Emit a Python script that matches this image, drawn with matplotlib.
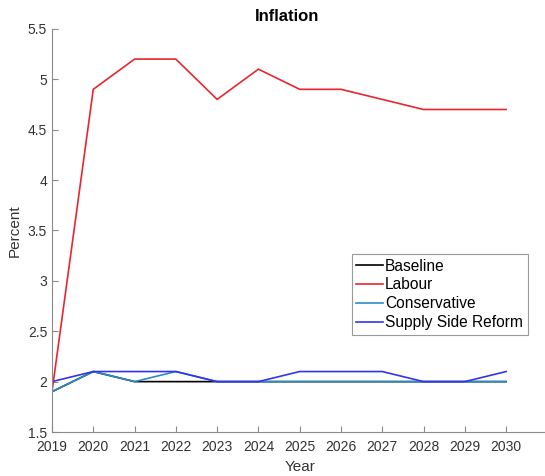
import matplotlib
matplotlib.use("Agg")
import matplotlib.pyplot as plt

plt.rcParams['font.family'] = ['Liberation Sans', 'DejaVu Sans']

years = list(range(2019, 2031))
baseline = [1.9, 2.1, 2.0, 2.0, 2.0, 2.0, 2.0, 2.0, 2.0, 2.0, 2.0, 2.0]
labour = [1.9, 4.9, 5.2, 5.2, 4.8, 5.1, 4.9, 4.9, 4.8, 4.7, 4.7, 4.7]
conservative = [1.9, 2.1, 2.0, 2.1, 2.0, 2.0, 2.0, 2.0, 2.0, 2.0, 2.0, 2.0]
supply_side = [2.0, 2.1, 2.1, 2.1, 2.0, 2.0, 2.1, 2.1, 2.1, 2.0, 2.0, 2.1]
yticks = [1.5, 2, 2.5, 3, 3.5, 4, 4.5, 5, 5.5]
ytick_labels = ['1.5', '2', '2.5', '3', '3.5', '4', '4.5', '5', '5.5']

fig = plt.figure(figsize=(5.45, 4.76), dpi=100)
ax = fig.add_axes([0.0954, 0.0924, 0.909, 0.847])

ax.plot(years, baseline, color='black', lw=1.2, label='Baseline')
ax.plot(years, labour, color='#e8262e', lw=1.2, label='Labour')
ax.plot(years, conservative, color='#2b8cc4', lw=1.2, label='Conservative')
ax.plot(years, supply_side, color='#3333ee', lw=1.2, label='Supply Side Reform')

ax.set_xlim(2019, 2031)
ax.set_ylim(1.5, 5.5)
ax.set_xticks(years)
ax.set_xticklabels([str(y) for y in years])
ax.set_yticks(yticks)
ax.set_yticklabels(ytick_labels)

for s in ['top', 'right']:
    ax.spines[s].set_visible(False)
for s in ['left', 'bottom']:
    ax.spines[s].set_color('#8a8a8a')
    ax.spines[s].set_linewidth(0.8)
ax.tick_params(direction='in', length=4, width=0.8, color='#8a8a8a',
               labelsize=10, labelcolor='#333333')
ax.tick_params(axis='x', pad=6)

ax.set_title('Inflation', fontsize=12, fontweight='bold', pad=6, x=0.475)
ax.set_xlabel('Year', fontsize=11, color='#333333', labelpad=4)
ax.set_ylabel('Percent', fontsize=11, color='#333333', labelpad=4)

leg = ax.legend(loc='lower left', bbox_to_anchor=(0.605, 0.241), borderaxespad=0,
                fontsize=11.2, handlelength=1.7, handletextpad=0.15,
                labelspacing=0.25, borderpad=0.3, fancybox=False, framealpha=1)
leg.get_frame().set_edgecolor('#9a9a9a')
leg.get_frame().set_linewidth(0.8)

fig.savefig('out.png', dpi=100)
